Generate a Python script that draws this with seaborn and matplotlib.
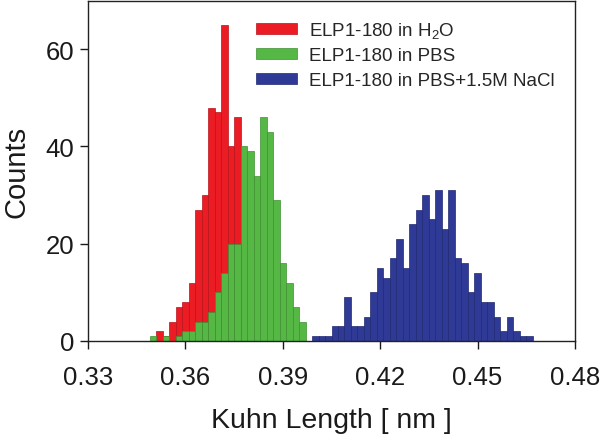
import numpy as np
import pandas as pd
import matplotlib
matplotlib.use("Agg")
import matplotlib.pyplot as plt
from matplotlib.patches import Patch
import seaborn as sns

# ---- data ----
bin_width = 0.002
h2o_start = 0.351
h2o_counts = [2, 1, 4, 7, 8, 12, 27, 30, 48, 47, 65, 40, 46]
pbs_start = 0.349
pbs_counts = [1, 0, 1, 0, 1, 2, 2, 4, 4, 6, 10, 14, 20, 20, 40, 39, 34, 46, 43, 29, 16, 12, 7, 4]
nacl_start = 0.399
nacl_counts = [1, 1, 1, 3, 3, 9, 3, 3, 5, 10, 15, 13, 17, 21, 15, 24, 27, 30, 25, 31, 23, 31,
               17, 16, 10, 14, 8, 8, 5, 2, 5, 2, 1, 1]
labels = ["ELP1-180 in H$_2$O", "ELP1-180 in PBS", "ELP1-180 in PBS+1.5M NaCl"]
x_ticks = [0.33, 0.36, 0.39, 0.42, 0.45, 0.48]
x_tick_labels = ["0.33", "0.36", "0.39", "0.42", "0.45", "0.48"]
y_ticks = [0, 20, 40, 60]

colors = ["#EC1C24", "#55B845", "#2E3A96"]
edges_c = ["#B5141A", "#3E8F32", "#1F2870"]

sns.set_theme(style="white")
plt.rcParams["font.family"] = ["Liberation Sans", "DejaVu Sans"]
plt.rcParams["mathtext.fontset"] = "custom"
plt.rcParams["mathtext.rm"] = "Liberation Sans"
plt.rcParams["mathtext.it"] = "Liberation Sans"

fig = plt.figure(figsize=(6.01, 4.35), dpi=100)
ax = fig.add_axes([88 / 601, 1 - 342 / 435, (575 - 88) / 601, (342 - 1.5) / 435])


def series_df(start, counts):
    n = len(counts)
    centers = [start + bin_width * (k + 0.5) for k in range(n)]
    return pd.DataFrame({"x": centers, "w": counts}), n, (start, start + n * bin_width)


order = [2, 0, 1]  # draw blue, then red, then green on top
specs = [(h2o_start, h2o_counts), (pbs_start, pbs_counts), (nacl_start, nacl_counts)]
for i in order:
    df, n, rng = series_df(*specs[i])
    sns.histplot(data=df, x="x", weights="w", bins=n, binrange=rng, ax=ax, color=colors[i],
                 alpha=1, edgecolor=edges_c[i], linewidth=0.5)

ax.set_xlim(0.33, 0.48)
ax.set_ylim(0, 70)
ax.set_xticks(x_ticks)
ax.set_xticklabels(x_tick_labels)
ax.set_yticks(y_ticks)
ax.tick_params(axis="both", which="major", direction="out", length=6, width=1,
               labelsize=18.5, colors="#1a1a1a", bottom=True, left=True, top=False, right=False)
ax.tick_params(axis="x", pad=11)
ax.tick_params(axis="y", pad=4)
for s in ax.spines.values():
    s.set_visible(True)
    s.set_color("#222222")
    s.set_linewidth(1.0)
ax.set_xlabel("Kuhn Length [ nm ]", fontsize=20.5, color="#1a1a1a", labelpad=13)
ax.set_ylabel("Counts", fontsize=21, color="#1a1a1a", labelpad=11)

handles = [Patch(facecolor=colors[i], edgecolor=edges_c[i], linewidth=0.5) for i in range(3)]
ax.legend(handles, labels, loc="upper left", bbox_to_anchor=(0.345, 0.943), frameon=False,
          fontsize=13.5, handlelength=2.2, handleheight=0.55, handletextpad=0.6,
          labelspacing=0.4, borderpad=0, borderaxespad=0)

fig.savefig("out.png", dpi=100)
